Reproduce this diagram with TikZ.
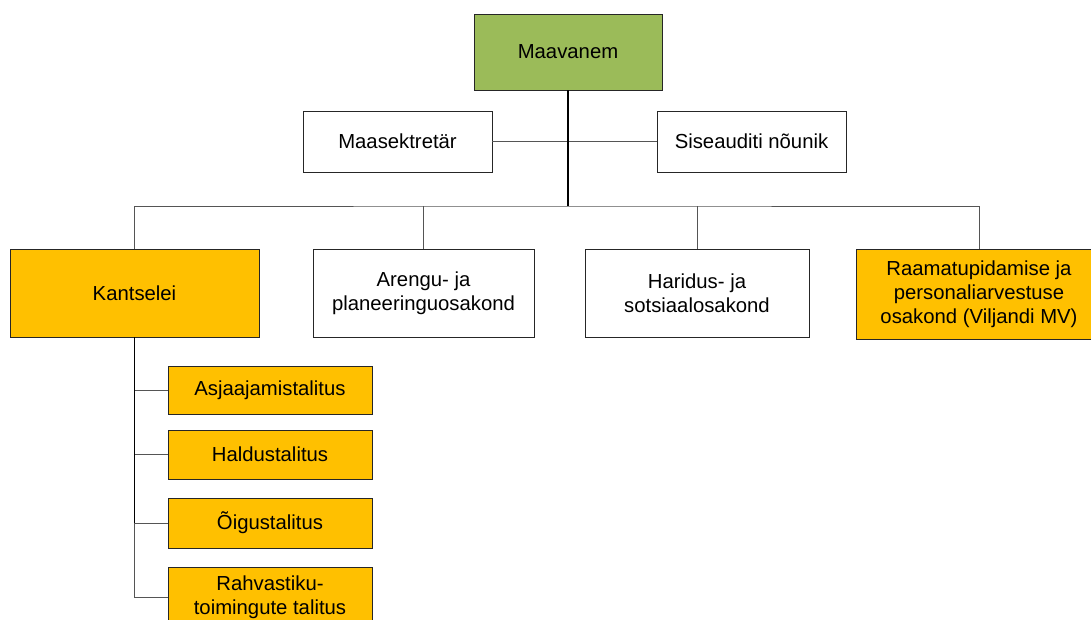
\documentclass[tikz,border=0pt]{standalone}
\usepackage{fontspec}
\setmainfont{Liberation Sans}
\definecolor{leafgreen}{HTML}{9BBB59}
\definecolor{amber}{HTML}{FFC000}
\definecolor{linegray}{HTML}{555555}
\begin{document}
\begin{tikzpicture}[x=1pt,y=-1pt,
  unit/.style={draw=black!85, line width=0.9pt, fill=white, inner sep=0pt,
    align=center, font=\fontsize{20.3}{24}\selectfont},
  green unit/.style={unit, fill=leafgreen},
  amber unit/.style={unit, fill=amber},
  link/.style={draw=linegray, line width=0.8pt},
  trunk/.style={draw=black, line width=1.5pt}]
\useasboundingbox (0,0) rectangle (1091,619);
\clip (0,0) rectangle (1091,619);

% top level
\node[green unit, minimum width=188pt, minimum height=76pt] (head) at (568,52) {Maavanem};
\node[unit, minimum width=189pt, minimum height=61pt] (sec) at (397.5,141.5) {Maasektretär};
\node[unit, minimum width=189pt, minimum height=61pt] (audit) at (751.5,141.5) {Siseauditi nõunik};

% departments
\node[amber unit, minimum width=249pt, minimum height=88pt] (office) at (134.5,293) {Kantselei};
\node[unit, minimum width=221pt, minimum height=88pt] (dev) at (423.5,293) {Arengu- ja\\planeeringuosakond};
\node[unit, minimum width=224pt, minimum height=88pt] (edu) at (697,293) {Haridus- ja\\sotsiaalosakond};
\node[amber unit, minimum width=246pt, minimum height=90pt] (acc) at (979,294) {Raamatupidamise ja\\personaliarvestuse\\osakond (Viljandi MV)};

% office sections
\node[amber unit, minimum width=204pt, minimum height=48pt] (s1) at (270,390) {Asjaajamistalitus};
\node[amber unit, minimum width=204pt, minimum height=49pt] (s2) at (270,454.5) {Haldustalitus};
\node[amber unit, minimum width=204pt, minimum height=50pt] (s3) at (270,523) {Õigustalitus};
\node[amber unit, minimum width=204pt, minimum height=60pt] (s4) at (270,597) {Rahvastiku-\\toimingute talitus};

\coordinate (bus) at (568,206);

% connectors
\draw[link] (sec.east) -- (audit.west);
\draw[link] (office.north) |- (bus) -| (acc.north);
\draw[link] (dev.north) -- (dev.north |- bus);
\draw[link] (edu.north) -- (edu.north |- bus);
\draw[trunk] (head.south) -- (bus);

\draw[link] (office.south) |- (s4.west);
\draw[link] (office.south |- s1.west) -- (s1.west);
\draw[link] (office.south |- s2.west) -- (s2.west);
\draw[link] (office.south |- s3.west) -- (s3.west);
\draw[draw=black, line width=1.2pt] (office.south) -- (office.south |- s3.west);
\end{tikzpicture}
\end{document}
